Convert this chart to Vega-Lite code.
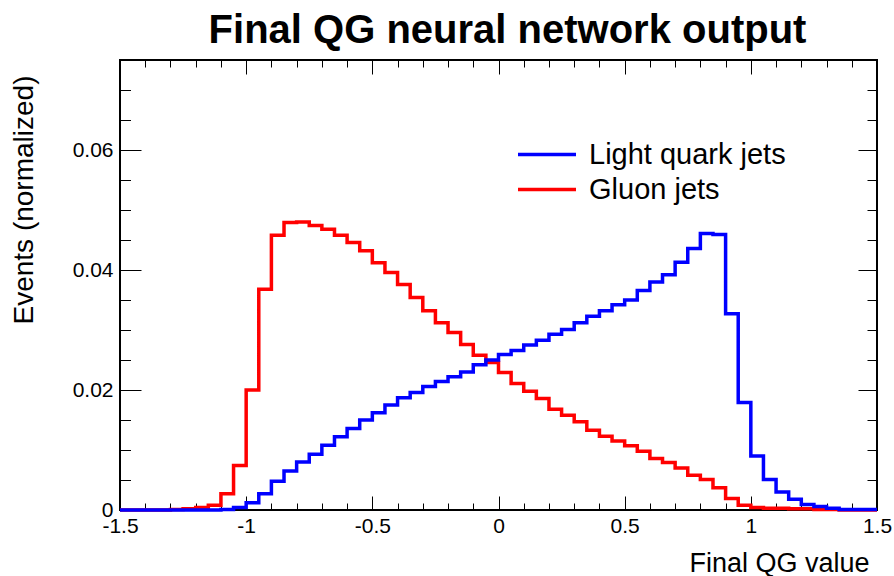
{
  "$schema": "https://vega.github.io/schema/vega-lite/v6.json",
  "width": 757,
  "height": 450,
  "autosize": {"type": "none"},
  "padding": {"left": 120, "top": 60, "right": 17, "bottom": 66},
  "background": "white",
  "title": {"text": "Final QG neural network output", "font": "Liberation Sans", "fontSize": 40, "fontWeight": "bold", "color": "black", "anchor": "middle", "frame": "group", "dx": 9, "dy": 51, "baseline": "alphabetic", "offset": 17},
  "config": {
    "view": {"stroke": "black", "strokeWidth": 2},
    "axis": {"domain": false, "grid": false, "tickColor": "black", "tickWidth": 1, "labelFont": "Liberation Sans", "labelFontSize": 21, "labelColor": "black", "titleFont": "Liberation Sans", "titleFontSize": 27, "titleFontWeight": "normal", "titleColor": "black", "labelFlush": false, "labelOverlap": false}
  },
  "data": {"values": [
    {"x": -1.5, "g": 0, "q": 0},
    {"x": -1.45, "g": 0, "q": 0},
    {"x": -1.4, "g": 0, "q": 0},
    {"x": -1.35, "g": 0, "q": 0},
    {"x": -1.3, "g": 0.0001, "q": 0},
    {"x": -1.25, "g": 0.0002, "q": 0},
    {"x": -1.2, "g": 0.0004, "q": 0},
    {"x": -1.15, "g": 0.0008, "q": 0},
    {"x": -1.1, "g": 0.0027, "q": 0.0001},
    {"x": -1.05, "g": 0.0074, "q": 0.0004},
    {"x": -1.0, "g": 0.0200, "q": 0.0012},
    {"x": -0.95, "g": 0.0368, "q": 0.0027},
    {"x": -0.9, "g": 0.0458, "q": 0.0048},
    {"x": -0.85, "g": 0.0479, "q": 0.0065},
    {"x": -0.8, "g": 0.0480, "q": 0.0080},
    {"x": -0.75, "g": 0.0474, "q": 0.0093},
    {"x": -0.7, "g": 0.0468, "q": 0.0108},
    {"x": -0.65, "g": 0.0458, "q": 0.0122},
    {"x": -0.6, "g": 0.0446, "q": 0.0136},
    {"x": -0.55, "g": 0.0432, "q": 0.0150},
    {"x": -0.5, "g": 0.0412, "q": 0.0162},
    {"x": -0.45, "g": 0.0396, "q": 0.0175},
    {"x": -0.4, "g": 0.0376, "q": 0.0187},
    {"x": -0.35, "g": 0.0354, "q": 0.0196},
    {"x": -0.3, "g": 0.0332, "q": 0.0206},
    {"x": -0.25, "g": 0.0312, "q": 0.0214},
    {"x": -0.2, "g": 0.0296, "q": 0.0222},
    {"x": -0.15, "g": 0.0276, "q": 0.0230},
    {"x": -0.1, "g": 0.0258, "q": 0.0242},
    {"x": -0.05, "g": 0.0246, "q": 0.0250},
    {"x": 0, "g": 0.0229, "q": 0.0259},
    {"x": 0.05, "g": 0.0211, "q": 0.0266},
    {"x": 0.1, "g": 0.0198, "q": 0.0275},
    {"x": 0.15, "g": 0.0186, "q": 0.0283},
    {"x": 0.2, "g": 0.0168, "q": 0.0293},
    {"x": 0.25, "g": 0.0158, "q": 0.0301},
    {"x": 0.3, "g": 0.0147, "q": 0.0312},
    {"x": 0.35, "g": 0.0133, "q": 0.0323},
    {"x": 0.4, "g": 0.0123, "q": 0.0332},
    {"x": 0.45, "g": 0.0115, "q": 0.0342},
    {"x": 0.5, "g": 0.0107, "q": 0.0350},
    {"x": 0.55, "g": 0.0098, "q": 0.0366},
    {"x": 0.6, "g": 0.0086, "q": 0.0380},
    {"x": 0.65, "g": 0.0079, "q": 0.0392},
    {"x": 0.7, "g": 0.0070, "q": 0.0413},
    {"x": 0.75, "g": 0.0058, "q": 0.0436},
    {"x": 0.8, "g": 0.0051, "q": 0.0461},
    {"x": 0.85, "g": 0.0037, "q": 0.0459},
    {"x": 0.9, "g": 0.0019, "q": 0.0327},
    {"x": 0.95, "g": 0.0008, "q": 0.0179},
    {"x": 1.0, "g": 0.0004, "q": 0.0090},
    {"x": 1.05, "g": 0.0003, "q": 0.0051},
    {"x": 1.1, "g": 0.0003, "q": 0.0030},
    {"x": 1.15, "g": 0.0002, "q": 0.0018},
    {"x": 1.2, "g": 0.0002, "q": 0.0009},
    {"x": 1.25, "g": 0.0001, "q": 0.0006},
    {"x": 1.3, "g": 0.0001, "q": 0.0003},
    {"x": 1.35, "g": 0, "q": 0.0001},
    {"x": 1.4, "g": 0, "q": 0.0001},
    {"x": 1.45, "g": 0, "q": 0.0001},
    {"x": 1.5, "g": 0, "q": 0.0001}
  ]},
  "transform": [{"fold": ["g", "q"], "as": ["s", "v"]}],
  "resolve": {"axis": {"x": "independent", "y": "independent"}},
  "layer": [
    {
      "mark": {"type": "line", "interpolate": "step-after", "strokeWidth": 3.5, "strokeJoin": "miter", "strokeCap": "butt"},
      "encoding": {
        "x": {"field": "x", "type": "quantitative", "scale": {"domain": [-1.5, 1.5], "nice": false, "zero": false},
          "axis": {"orient": "bottom",
            "values": [-1.5,-1.4,-1.3,-1.2,-1.1,-1,-0.9,-0.8,-0.7,-0.6,-0.5,-0.4,-0.3,-0.2,-0.1,0,0.1,0.2,0.3,0.4,0.5,0.6,0.7,0.8,0.9,1,1.1,1.2,1.3,1.4,1.5],
            "tickSize": {"condition": {"test": "abs(datum.value*2 - round(datum.value*2)) < 0.001", "value": -14}, "value": -7},
            "labelExpr": "abs(datum.value*2 - round(datum.value*2)) < 0.001 ? toString(datum.value) : ''",
            "labelPadding": 19,
            "title": "Final QG value", "titleX": 749, "titleY": 61, "titleAlign": "right", "titleBaseline": "alphabetic"}},
        "y": {"field": "v", "type": "quantitative", "scale": {"domain": [0, 0.075], "nice": false},
          "axis": {"orient": "left",
            "values": [0,0.005,0.01,0.015,0.02,0.025,0.03,0.035,0.04,0.045,0.05,0.055,0.06,0.065,0.07,0.075],
            "tickSize": {"condition": {"test": "abs(datum.value*50 - round(datum.value*50)) < 0.001", "value": -21}, "value": -10.5},
            "labelExpr": "abs(datum.value*50 - round(datum.value*50)) < 0.001 ? toString(datum.value) : ''",
            "labelPadding": 28,
            "title": "Events (normalized)", "titleFontSize": 28, "titleX": -88, "titleY": 15, "titleAngle": -90, "titleAlign": "right", "titleBaseline": "alphabetic"}},
        "color": {"field": "s", "type": "nominal",
          "scale": {"domain": ["q", "g"], "range": ["#0000ff", "#ff0000"]},
          "legend": {"orient": "none", "legendX": 396, "legendY": 79, "title": null, "symbolType": "stroke", "symbolSize": 3364, "symbolStrokeWidth": 3.5, "clipHeight": 31, "rowPadding": 4, "labelFontSize": 29, "labelFont": "Liberation Sans", "labelColor": "black", "labelOffset": 11, "labelLimit": 400, "padding": 0,
            "labelExpr": "datum.value == 'q' ? 'Light quark jets' : 'Gluon jets'"}}
      }
    },
    {
      "mark": {"type": "line", "strokeOpacity": 0},
      "encoding": {
        "x": {"field": "x", "type": "quantitative",
          "axis": {"orient": "top", "labels": false, "title": null,
            "values": [-1.5,-1.4,-1.3,-1.2,-1.1,-1,-0.9,-0.8,-0.7,-0.6,-0.5,-0.4,-0.3,-0.2,-0.1,0,0.1,0.2,0.3,0.4,0.5,0.6,0.7,0.8,0.9,1,1.1,1.2,1.3,1.4,1.5],
            "tickSize": {"condition": {"test": "abs(datum.value*2 - round(datum.value*2)) < 0.001", "value": -14}, "value": -7}}},
        "y": {"field": "v", "type": "quantitative",
          "axis": {"orient": "right", "labels": false, "title": null,
            "values": [0,0.005,0.01,0.015,0.02,0.025,0.03,0.035,0.04,0.045,0.05,0.055,0.06,0.065,0.07,0.075],
            "tickSize": {"condition": {"test": "abs(datum.value*50 - round(datum.value*50)) < 0.001", "value": -19}, "value": -10}}}
      }
    }
  ]
}
